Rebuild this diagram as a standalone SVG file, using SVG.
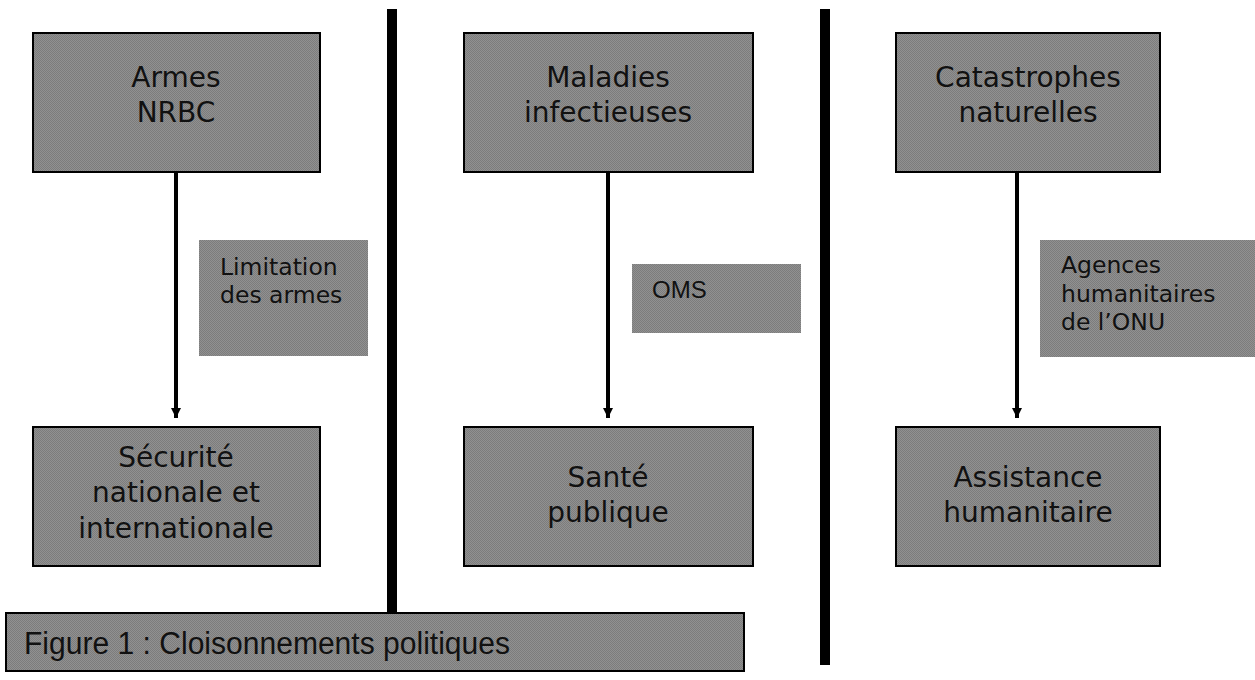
<svg xmlns="http://www.w3.org/2000/svg" width="1255" height="680" viewBox="0 0 1255 680">
<defs>
<pattern id="dither" width="2" height="2" patternUnits="userSpaceOnUse">
<rect width="2" height="2" fill="#919191"/>
<rect width="1" height="1" fill="#7c7c7c"/>
<rect x="1" y="1" width="1" height="1" fill="#7c7c7c"/>
</pattern>
<marker id="arrow" markerWidth="10" markerHeight="10" refX="10" refY="5" orient="auto" markerUnits="userSpaceOnUse">
<path d="M0,0 L10,5 L0,10 Z" fill="#000"/>
</marker>
</defs>
<style>
.box{fill:url(#dither);stroke:#000;stroke-width:2}
.lbl{fill:url(#dither);stroke:none}
.big{font-family:"DejaVu Sans",Verdana,sans-serif;font-size:28px;fill:#111;text-anchor:middle}
.mid{font-family:"DejaVu Sans",Verdana,sans-serif;font-size:23.5px;fill:#111}
.ar{font-family:"Liberation Sans",Arial,sans-serif;font-size:24px;fill:#111}
.conn{stroke:#000;stroke-width:4;fill:none}
.bar{fill:#000}
</style>
<rect width="1255" height="680" fill="#fff"/>
<g id="separators">
<rect class="bar" x="387" y="9" width="10" height="656"/>
<rect class="bar" x="820" y="9" width="10" height="656"/>
</g>
<g id="connectors">
<line class="conn" x1="176" y1="173" x2="176" y2="418" marker-end="url(#arrow)"/>
<line class="conn" x1="608" y1="173" x2="608" y2="418" marker-end="url(#arrow)"/>
<line class="conn" x1="1017" y1="173" x2="1017" y2="418" marker-end="url(#arrow)"/>
</g>
<g id="armes">
<rect class="box" x="33" y="33" width="287" height="139"/>
<text class="big" x="176" y="87">Armes</text>
<text class="big" x="176" y="122">NRBC</text>
</g>
<g id="maladies">
<rect class="box" x="464" y="33" width="289" height="139"/>
<text class="big" x="608" y="87">Maladies</text>
<text class="big" x="608" y="122">infectieuses</text>
</g>
<g id="catastrophes">
<rect class="box" x="896" y="33" width="264" height="139"/>
<text class="big" x="1028" y="87">Catastrophes</text>
<text class="big" x="1028" y="122">naturelles</text>
</g>
<g id="limitation">
<rect class="lbl" x="199" y="240" width="169" height="116"/>
<text class="mid" x="220" y="275">Limitation</text>
<text class="mid" x="220" y="303">des armes</text>
</g>
<g id="oms">
<rect class="lbl" x="632" y="264" width="169" height="69"/>
<text class="ar" x="652" y="298">OMS</text>
</g>
<g id="agences">
<rect class="lbl" x="1040" y="240" width="215" height="117"/>
<text class="mid" x="1061" y="273">Agences</text>
<text class="mid" x="1061" y="302">humanitaires</text>
<text class="mid" x="1061" y="330">de l’ONU</text>
</g>
<g id="securite">
<rect class="box" x="33" y="427" width="287" height="139"/>
<text class="big" x="176" y="467">Sécurité</text>
<text class="big" x="176" y="502">nationale et</text>
<text class="big" x="176" y="538">internationale</text>
</g>
<g id="sante">
<rect class="box" x="464" y="427" width="289" height="139"/>
<text class="big" x="608" y="487">Santé</text>
<text class="big" x="608" y="522">publique</text>
</g>
<g id="assistance">
<rect class="box" x="896" y="427" width="264" height="139"/>
<text class="big" x="1028" y="487">Assistance</text>
<text class="big" x="1028" y="522">humanitaire</text>
</g>
<g id="caption">
<rect class="box" x="6" y="613" width="738" height="58"/>
<text class="ar" x="24" y="654" style="font-size:31px" textLength="486" lengthAdjust="spacingAndGlyphs">Figure 1 : Cloisonnements politiques</text>
</g>
</svg>
